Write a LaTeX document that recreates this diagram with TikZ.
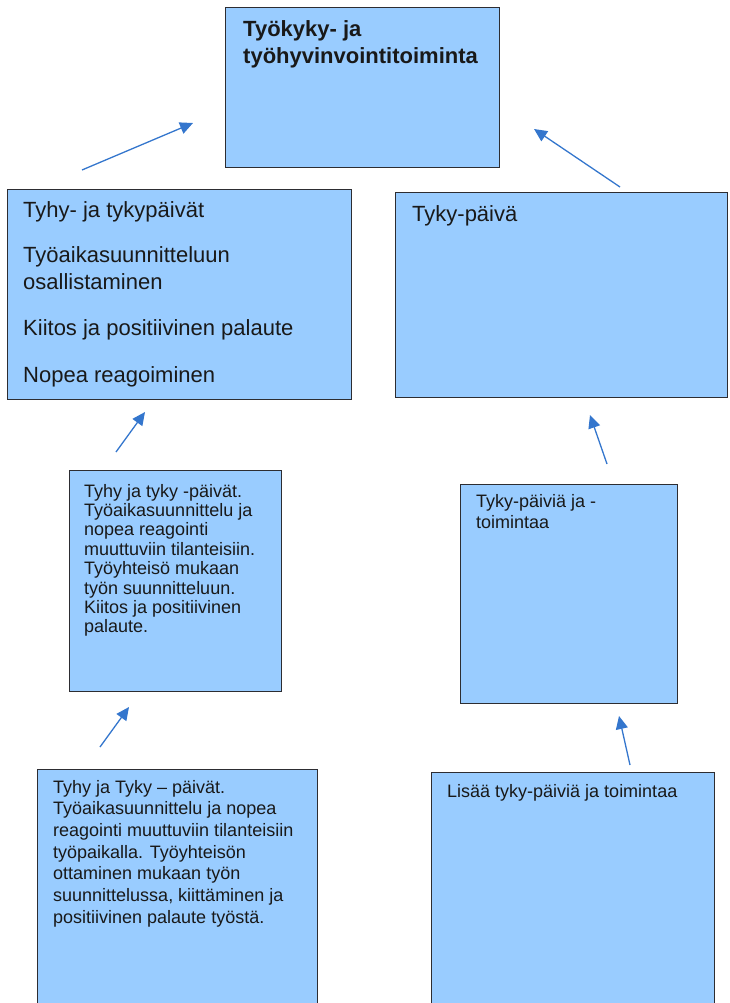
\documentclass[tikz,border=0pt]{standalone}
\usepackage{fontspec}
\setmainfont{Liberation Sans}
\usetikzlibrary{arrows.meta}
\definecolor{boxfill}{RGB}{153,204,255}
\definecolor{boxline}{RGB}{45,45,50}
\definecolor{arrowblue}{RGB}{52,118,205}

\begin{document}
\begin{tikzpicture}[x=1pt,y=-1pt,
  box/.style={draw=boxline, fill=boxfill, line width=1.1pt, rectangle,
    inner sep=0pt, anchor=north west},
  txt/.style={inner sep=0pt, anchor=base west, text=black!90},
  flow/.style={draw=arrowblue, line width=1.3pt,
    -{Triangle[length=13pt,width=12pt]}}]
\useasboundingbox (0,0) rectangle (729,1003);
\clip (0,0) rectangle (729,1003);

% goal box at the top
\node[box, minimum width=274pt, minimum height=160pt] (goal) at (225,7) {};
\node[txt] (goaltext) at (243,37) {\parbox[t]{260pt}{\fontsize{22}{26.7}\selectfont\bfseries
  Työkyky- ja\\työhyvinvointitoiminta}};

% second row
\node[box, minimum width=344pt, minimum height=210pt] (left2) at (7,189) {};
\node[txt] (left2text) at (23,217) {\parbox[t]{320pt}{\fontsize{22}{27}\selectfont
  Tyhy- ja tykypäivät\\[18.5pt]
  Työaikasuunnitteluun\\osallistaminen\\[19pt]
  Kiitos ja positiivinen palaute\\[19.5pt]
  Nopea reagoiminen}};

\node[box, minimum width=332pt, minimum height=205pt] (right2) at (395,192) {};
\node[txt] (right2text) at (412,221) {\parbox[t]{300pt}{\fontsize{22}{27}\selectfont
  Tyky-päivä}};

% third row
\node[box, minimum width=212pt, minimum height=221pt] (left3) at (69,470) {};
\node[txt] (left3text) at (84,497) {\parbox[t]{200pt}{\fontsize{18}{19.4}\selectfont
  Tyhy ja tyky -päivät.\\
  Työaikasuunnittelu ja\\
  nopea reagointi\\
  muuttuviin tilanteisiin.\\
  Työyhteisö mukaan\\
  työn suunnitteluun.\\
  Kiitos ja positiivinen\\
  palaute.}};

\node[box, minimum width=217pt, minimum height=219pt] (right3) at (460,484) {};
\node[txt] (right3text) at (476,507) {\parbox[t]{200pt}{\fontsize{18}{21}\selectfont
  Tyky-päiviä ja -\\toimintaa}};

% bottom row
\node[box, minimum width=280pt, minimum height=260pt] (left4) at (37,769) {};
\node[txt] (left4text) at (53,793) {\parbox[t]{270pt}{\fontsize{18}{21.7}\selectfont
  Tyhy ja Tyky – päivät.\\
  Työaikasuunnittelu ja nopea\\
  reagointi muuttuviin tilanteisiin\\
  työpaikalla. Työyhteisön\\
  ottaminen mukaan työn\\
  suunnittelussa, kiittäminen ja\\
  positiivinen palaute työstä.}};

\node[box, minimum width=283pt, minimum height=260pt] (right4) at (431,772) {};
\node[txt] (right4text) at (447,797) {\parbox[t]{270pt}{\fontsize{18}{21.7}\selectfont
  Lisää tyky-päiviä ja toimintaa}};

% arrow end points between the rows
\coordinate (a1s) at (82,170);  \coordinate (a1e) at (193,123);
\coordinate (a2s) at (620,187); \coordinate (a2e) at (534,129);
\coordinate (a3s) at (116,452); \coordinate (a3e) at (145,412);
\coordinate (a4s) at (607,464); \coordinate (a4e) at (590,415);
\coordinate (a5s) at (100,747); \coordinate (a5e) at (129,707);
\coordinate (a6s) at (630,765); \coordinate (a6e) at (619,716);

\draw[flow] (a1s) -- (a1e);
\draw[flow] (a2s) -- (a2e);
\draw[flow] (a3s) -- (a3e);
\draw[flow] (a4s) -- (a4e);
\draw[flow] (a5s) -- (a5e);
\draw[flow] (a6s) -- (a6e);
\end{tikzpicture}
\end{document}
